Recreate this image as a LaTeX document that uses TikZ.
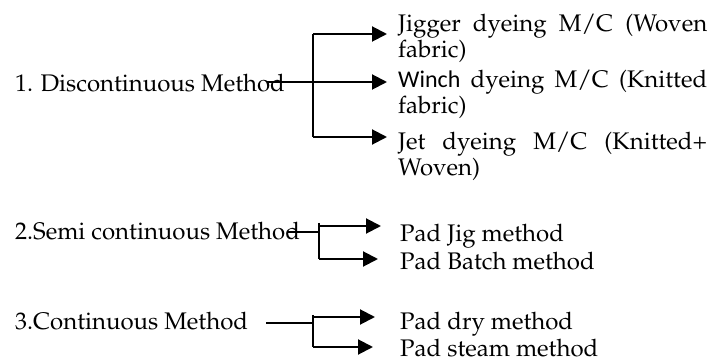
\documentclass[tikz,border=0pt]{standalone}
\usepackage[T1]{fontenc}
\usepackage{fontspec}
\newfontfamily\winchfont{Carlito}
\usetikzlibrary{arrows.meta}
\newcommand\palfont{\fontencoding{T1}\fontfamily{ppl}\selectfont\fontsize{24}{26}\selectfont}
\newcommand\winchtext[1]{{\fontsize{24}{26}\winchfont #1}}
\tikzset{
  lbl/.style={anchor=base west, inner sep=0pt, font=\palfont},
  para/.style={anchor=base west, inner sep=0pt, font=\palfont, align=left},
  conn/.style={line width=2pt},
  thinconn/.style={line width=1.6pt},
  arr/.style={line width=2pt, -{Triangle[length=15pt,width=15pt]}, shorten >=0pt},
}
\begin{document}
\begin{tikzpicture}[x=1pt,y=-1pt]
\useasboundingbox (0,0) rectangle (710,363);
% block 1
\node[lbl] (l1) at (15,92) {1. Discontinuous Method};
\coordinate (s1) at (267,82);
\coordinate (j1) at (313,82);
\coordinate (v1t) at (313,34);
\coordinate (v1b) at (313,137);
\coordinate (a11) at (387,34);
\coordinate (a12) at (387,82);
\coordinate (a13) at (387,137);
% paragraph nodes: base anchor sits on the last line
\node[para] (t11) at (398,58) {\makebox[309pt][s]{Jigger dyeing M/C (Woven}\\fabric)};
\node[para] (t12) at (398,114) {\makebox[309pt][s]{\winchtext{Winch} dyeing M/C (Knitted}\\fabric)};
\node[para] (t13) at (398,176) {\makebox[309pt][s]{Jet dyeing M/C (Knitted+}\\Woven)};
\draw[conn] (s1) -- (j1);
\draw[conn] (v1t) -- (v1b);
\draw[arr] (v1t) -- (a11);
\draw[arr] (j1) -- (a12);
\draw[arr] (v1b) -- (a13);
% block 2
\node[lbl] (l2) at (15,240) {2.Semi continuous Method};
\coordinate (s2) at (287,232);
\coordinate (j2) at (319,232);
\coordinate (v2t) at (319,223);
\coordinate (v2b) at (319,259);
\coordinate (b2t) at (319,226);
\coordinate (a21) at (381,226);
\coordinate (a22) at (378,259);
\node[lbl] (t21) at (400,242) {Pad Jig method};
\node[lbl] (t22) at (400,270) {Pad Batch method};
\draw[thinconn] (s2) -- (j2);
\draw[conn] (v2t) -- (v2b);
\draw[arr] (b2t) -- (a21);
\draw[arr] (v2b) -- (a22);
% block 3
\node[lbl] (l3) at (15,330) {3.Continuous Method};
\coordinate (s3) at (266,323);
\coordinate (j3) at (313,323);
\coordinate (v3t) at (313,315);
\coordinate (v3b) at (313,347);
\coordinate (b3t) at (313,317);
\coordinate (a31) at (375,317);
\coordinate (a32) at (373,347);
\node[lbl] (t31) at (400,330) {Pad dry method};
\node[lbl] (t32) at (400,357) {Pad steam method};
\draw[conn] (s3) -- (j3);
\draw[conn] (v3t) -- (v3b);
\draw[arr] (b3t) -- (a31);
\draw[arr] (v3b) -- (a32);
\end{tikzpicture}
\end{document}
